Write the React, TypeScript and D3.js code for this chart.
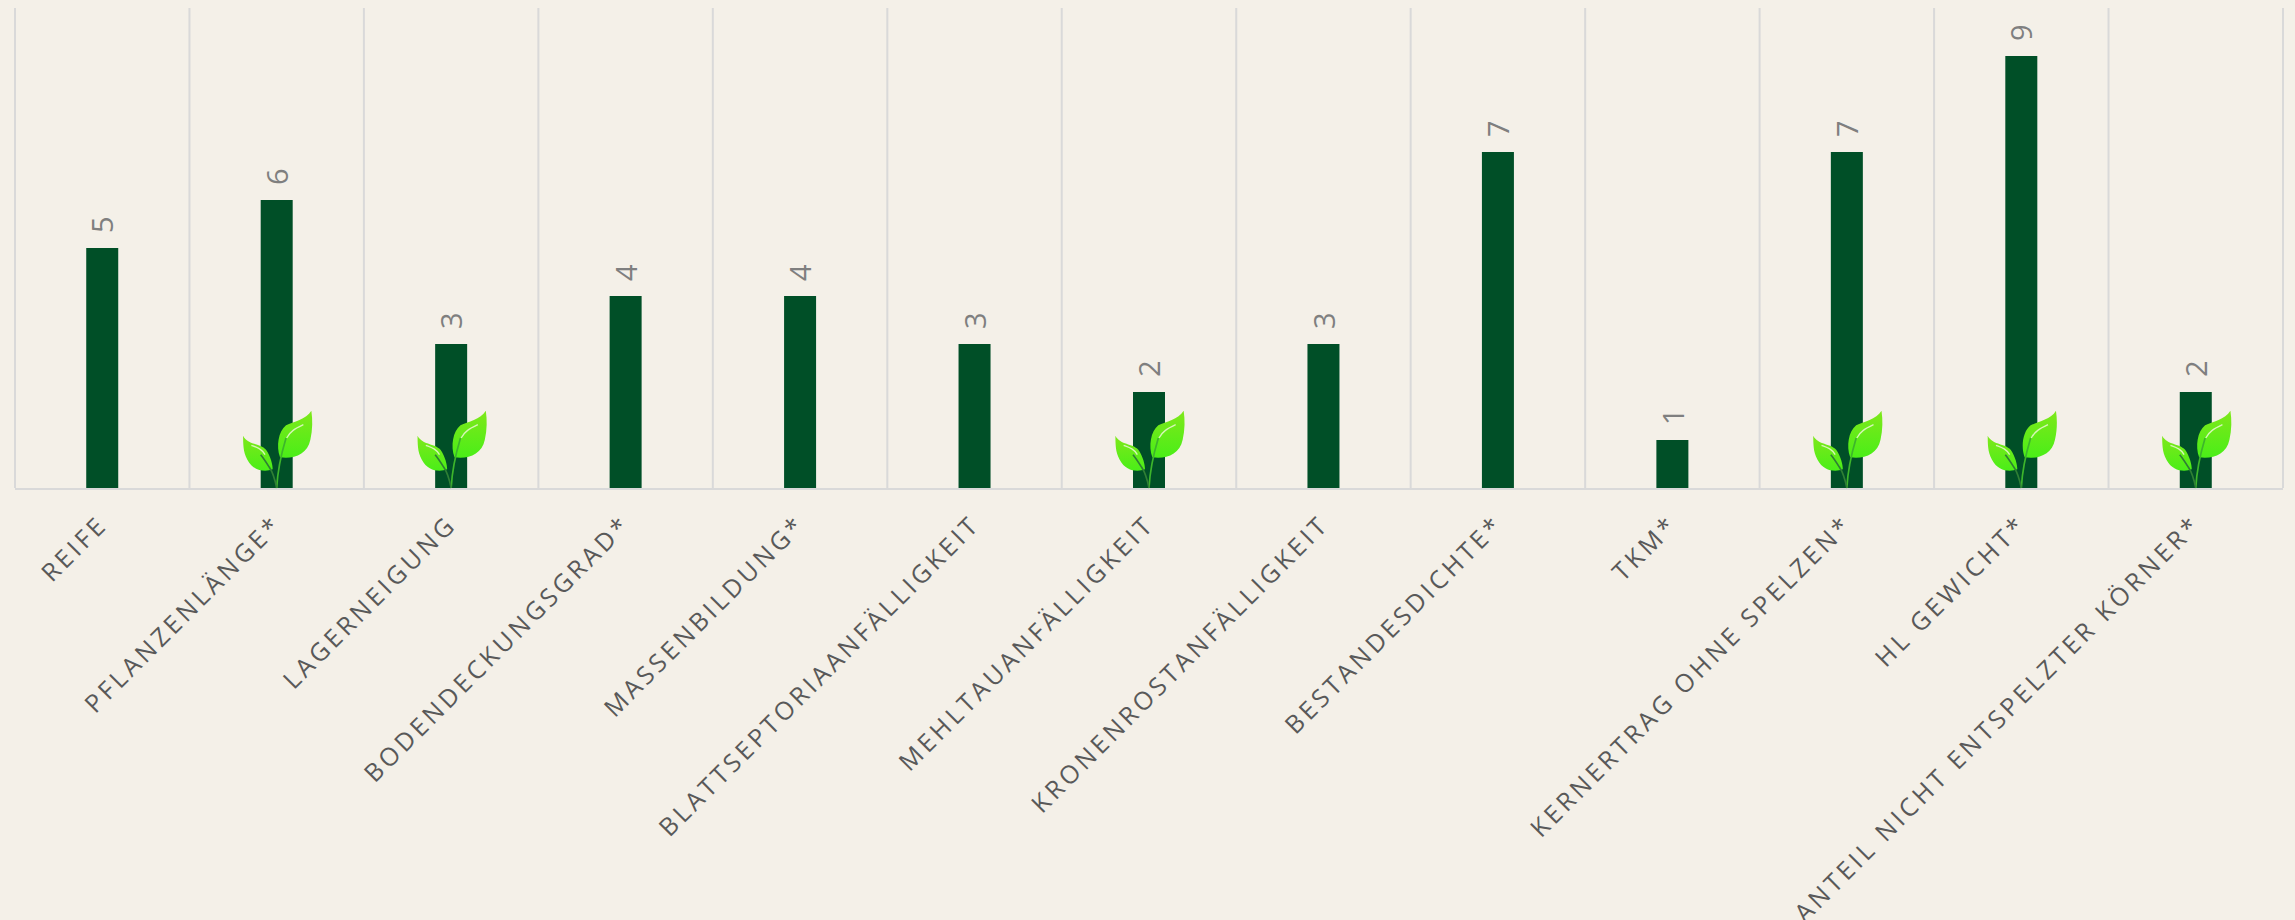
import React from "react";
import * as d3 from "d3";

const categories = [
  "REIFE",
  "PFLANZENLÄNGE*",
  "LAGERNEIGUNG",
  "BODENDECKUNGSGRAD*",
  "MASSENBILDUNG*",
  "BLATTSEPTORIAANFÄLLIGKEIT",
  "MEHLTAUANFÄLLIGKEIT",
  "KRONENROSTANFÄLLIGKEIT",
  "BESTANDESDICHTE*",
  "TKM*",
  "KERNERTRAG OHNE SPELZEN*",
  "HL GEWICHT*",
  "ANTEIL NICHT ENTSPELZTER KÖRNER*",
];
const values = [5, 6, 3, 4, 4, 3, 2, 3, 7, 1, 7, 9, 2];
const leafCategories = [
  "PFLANZENLÄNGE*",
  "LAGERNEIGUNG",
  "MEHLTAUANFÄLLIGKEIT",
  "KERNERTRAG OHNE SPELZEN*",
  "HL GEWICHT*",
  "ANTEIL NICHT ENTSPELZTER KÖRNER*",
];

const WIDTH = 2295;
const HEIGHT = 920;
const LEFT = 15;
const RIGHT = 2283;
const TOP = 8;
const BASE = 488;
const BAR_WIDTH = 32;
const FONT = "'Open Sans', sans-serif";

const Leaf = ({ x }: { x: number }) => (
  <g transform={`translate(${x},${BASE}) scale(0.3333)`}>
    <path
      d="M104,-232 C88,-205 50,-200 28,-188 C5,-170 -2,-125 10,-92 C50,-86 92,-100 101,-145 C108,-175 108,-205 104,-232Z"
      fill="url(#leafFill)"
    />
    <path
      d="M-101,-157 C-85,-128 -50,-135 -32,-115 C-18,-95 -12,-70 -12,-56 C-35,-48 -70,-50 -88,-85 C-102,-110 -100,-135 -101,-157Z"
      fill="url(#leafFill)"
    />
    <path d="M0,0 C2,-40 10,-90 28,-150" fill="none" stroke="#3db52c" strokeWidth={5} />
    <path d="M0,0 C-6,-30 -14,-50 -22,-62 C-30,-75 -40,-90 -48,-100" fill="none" stroke="#2f7f35" strokeWidth={5} />
    <path d="M30,-150 C40,-170 55,-178 80,-190" fill="none" stroke="#f2f9e0" strokeWidth={4} opacity={0.8} />
    <path d="M-76,-128 C-60,-122 -45,-118 -35,-100" fill="none" stroke="#f2f9e0" strokeWidth={4} opacity={0.8} />
  </g>
);

export default function App() {
  const x = d3.scaleBand<string>().domain(categories).range([LEFT, RIGHT]);
  const y = d3.scaleLinear().domain([0, 10]).range([BASE, TOP]);
  const gridLines = [...categories.map((c) => x(c) as number), RIGHT];

  return (
    <svg
      width={WIDTH}
      height={HEIGHT}
      style={{ position: "absolute", left: 0, top: 0, background: "#f4f0e8" }}
    >
      <defs>
        <linearGradient id="leafFill" x1="0" y1="0" x2="0" y2="1">
          <stop offset="0" stopColor="#7fe81a" />
          <stop offset="1" stopColor="#4aee18" />
        </linearGradient>
      </defs>

      {gridLines.map((gx) => (
        <line key={gx} x1={gx} x2={gx} y1={TOP} y2={BASE} stroke="#d9d9d9" strokeWidth={2} />
      ))}
      <line x1={LEFT} x2={RIGHT} y1={BASE + 1} y2={BASE + 1} stroke="#d9d9d9" strokeWidth={2} />

      {categories.map((c, i) => {
        const cx = (x(c) as number) + x.bandwidth() / 2;
        return (
          <g key={c}>
            <rect
              x={cx - BAR_WIDTH / 2}
              y={y(values[i])}
              width={BAR_WIDTH}
              height={BASE - y(values[i])}
              fill="#004f27"
            />
            <text
              transform={`translate(${cx + 1},${y(values[i]) - 15}) rotate(-90)`}
              fontFamily={FONT}
              fontSize={29}
              fill="#7f7f7f"
              dy="0.35em"
            >
              {values[i]}
            </text>
          </g>
        );
      })}

      {leafCategories.map((c) => (
        <Leaf key={c} x={(x(c) as number) + x.bandwidth() / 2} />
      ))}

      {categories.map((c) => {
        const cx = (x(c) as number) + x.bandwidth() / 2;
        return (
          <text
            key={c}
            transform={`translate(${cx + 7},${BASE + 38}) rotate(-45)`}
            textAnchor="end"
            fontFamily={FONT}
            fontSize={25}
            letterSpacing={3.6}
            fill="#595959"
          >
            {c}
          </text>
        );
      })}
    </svg>
  );
}
